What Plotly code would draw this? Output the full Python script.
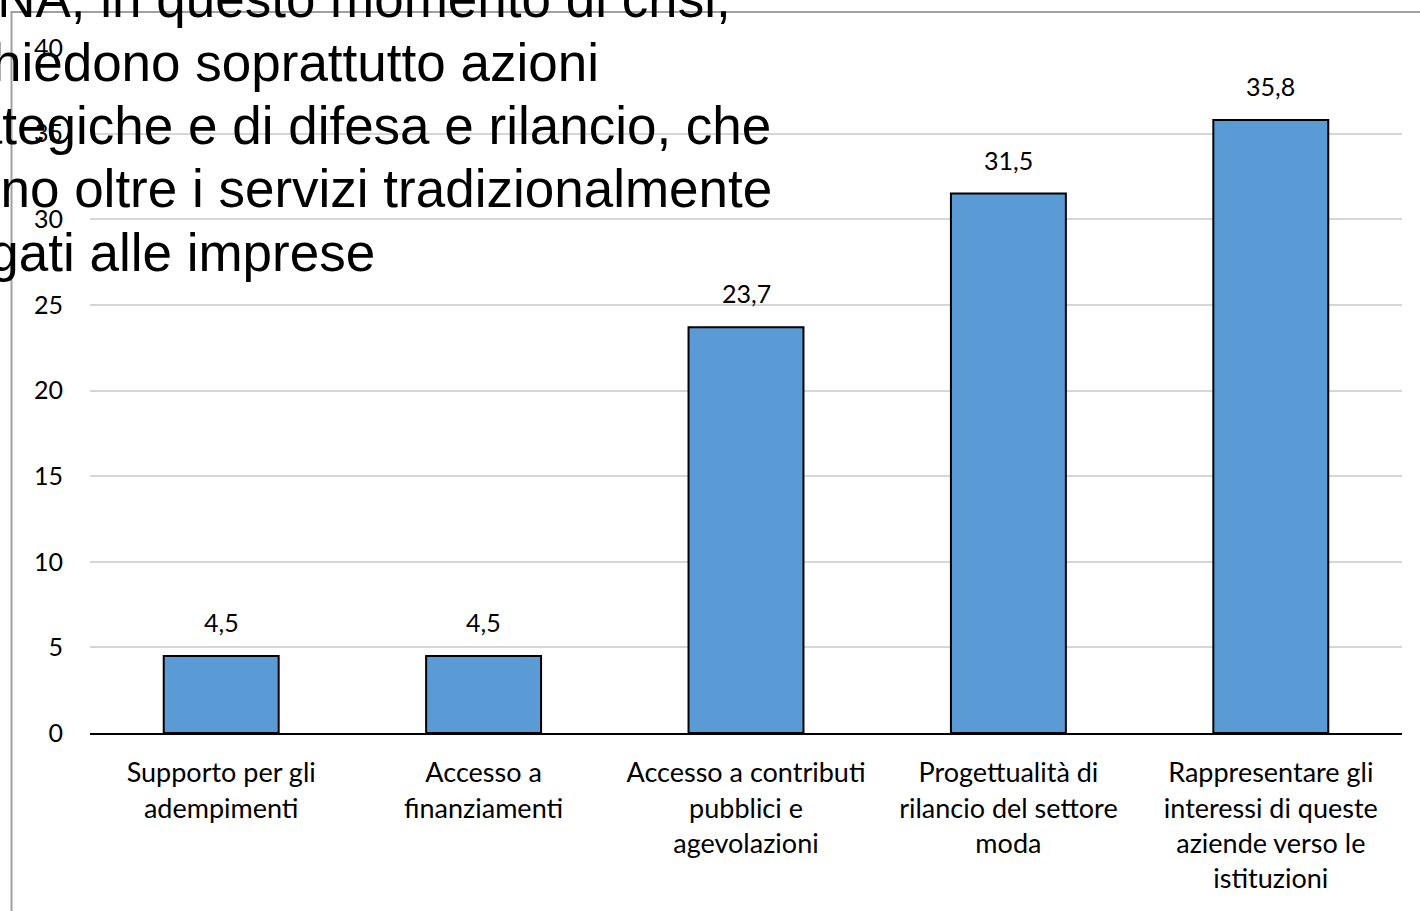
import plotly.graph_objects as go

# Services requested by the companies (% of respondents)
categories = [
    "Supporto per gli<br>adempimenti",
    "Accesso a<br>finanziamenti",
    "Accesso a contributi<br>pubblici e<br>agevolazioni",
    "Progettualità di<br>rilancio del settore<br>moda",
    "Rappresentare gli<br>interessi di queste<br>aziende verso le<br>istituzioni",
]
values = [4.5, 4.5, 23.7, 31.5, 35.8]
value_labels = ["4,5", "4,5", "23,7", "31,5", "35,8"]

y_ticks = [0, 5, 10, 15, 20, 25, 30, 35, 40]

# Headline text box that runs over the chart
title_lines = [
    "Le imprese CNA, in questo momento di crisi,",
    "richiedono soprattutto azioni",
    "strategiche e di difesa e rilancio, che",
    "vanno oltre i servizi tradizionalmente",
    "legati alle imprese",
]
title_right_px = [732, 600, 772, 773, 376]
title_baseline_px = [17, 80.5, 143.8, 207.2, 270.5]

W, H = 1420, 911
ML, MR, MT, MB = 90, 18, 48, 178
PW, PH = W - ML - MR, H - MT - MB


def px_x(x):
    return (x - ML) / PW


def px_y(y):
    return (H - MB - y) / PH


LABEL_FAMILY = "Lato, 'Open Sans', sans-serif"

fig = go.Figure(
    go.Bar(
        x=categories,
        y=values,
        marker=dict(color="#5b9bd5", line=dict(color="#000000", width=2)),
        hoverinfo="skip",
    )
)

annotations = []
for cat, val, lab in zip(categories, values, value_labels):
    annotations.append(
        dict(
            x=cat, y=val, xref="x", yref="y",
            text=lab, showarrow=False,
            xanchor="center", yanchor="bottom", yshift=17,
            font=dict(family=LABEL_FAMILY, size=25, color="#000000"),
        )
    )

TITLE_SIZE = 53
for line, rx, by in zip(title_lines, title_right_px, title_baseline_px):
    annotations.append(
        dict(
            x=px_x(rx), y=px_y(by - 0.3465 * TITLE_SIZE),
            xref="paper", yref="paper",
            text=line, showarrow=False,
            xanchor="right", yanchor="middle",
            borderpad=0,
            font=dict(family="'Liberation Sans', Arial, sans-serif", size=TITLE_SIZE, color="#000000"),
        )
    )

# Grey frame of the slide container (left and top edges)
frame = dict(color="#a0a0a0", width=2)
shapes = [
    dict(type="line", xref="paper", yref="paper",
         x0=px_x(11.5), x1=px_x(11.5), y0=px_y(12), y1=px_y(H + 5), line=frame, layer="above"),
    dict(type="line", xref="paper", yref="paper",
         x0=px_x(10.5), x1=px_x(W + 5), y0=px_y(12), y1=px_y(12), line=frame, layer="above"),
]

fig.update_layout(
    width=W, height=H,
    margin=dict(l=ML, r=MR, t=MT, b=MB, pad=0),
    paper_bgcolor="#ffffff", plot_bgcolor="#ffffff",
    bargap=0.562,
    showlegend=False,
    annotations=annotations,
    shapes=shapes,
    xaxis=dict(
        showgrid=False, zeroline=False,
        showline=True, linecolor="#000000", linewidth=2,
        ticks="", tickfont=dict(family=LABEL_FAMILY, size=27, color="#000000"),
        ticklabelstandoff=15,
        tickangle=0,
    ),
    yaxis=dict(
        range=[0, 40], tickvals=y_ticks, ticktext=[str(v) for v in y_ticks],
        showgrid=True, gridcolor="#d6d6d6", gridwidth=1.8,
        zeroline=False, showline=False,
        ticks="", tickfont=dict(family=LABEL_FAMILY, size=25, color="#000000"),
        ticklabelstandoff=26,
    ),
)

fig.write_html("out.html")
